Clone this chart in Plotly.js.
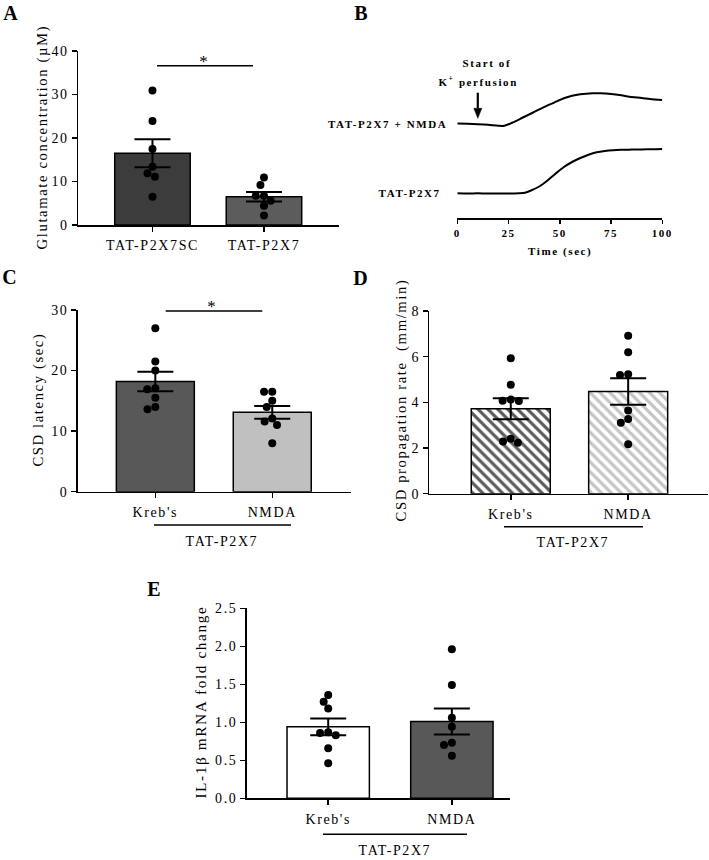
<!DOCTYPE html>
<html>
<head>
<meta charset="utf-8">
<script src="https://cdn.plot.ly/plotly-3.0.1.min.js"></script>
<style>
  html, body { margin: 0; padding: 0; background: white; }
  .main-svg text { letter-spacing: 1.6px; }
</style>
</head>
<body>
<div id="chart" style="width:709px;height:860px;"></div>
<script>
// ---------------- DATA ----------------
// Panel A: glutamate concentration (µM)
const A_categories = ['TAT-P2X7SC', 'TAT-P2X7'];
const A_means = [16.5, 6.5];
const A_sem = [3.2, 1.1];
const A_pts_SC = [30.9, 23.9, 17.5, 13.4, 11.9, 11.1, 6.5];
const A_pts_P2X7 = [10.9, 9.2, 6.7, 6.7, 5.6, 4.4, 2.2];

// Panel B: DC potential traces (arbitrary units, offset for display)
const B_time = [0, 5, 10, 15, 20, 23, 27, 32, 37, 42, 47, 52, 56, 60, 66, 70, 75, 80, 84, 90, 94, 100];
const B_nmda = [9.48, 9.45, 9.41, 9.35, 9.25, 9.25, 9.58, 10.08, 10.58, 11.10, 11.55, 12.00, 12.25, 12.40, 12.50, 12.50, 12.43, 12.30, 12.16, 12.03, 11.93, 11.83];
const B_time2 = [0, 5, 10, 15, 20, 25, 30, 33, 36, 40, 44, 48, 52, 56, 60, 64, 68, 72, 76, 80, 85, 90, 95, 100];
const B_tat = [2.50, 2.48, 2.50, 2.47, 2.49, 2.48, 2.50, 2.55, 2.78, 3.18, 3.78, 4.48, 5.13, 5.63, 6.03, 6.36, 6.60, 6.73, 6.81, 6.85, 6.87, 6.89, 6.90, 6.93];
const B_ticks = [0, 25, 50, 75, 100];
const B_arrowTime = 10;
const B_trace_labels = ['TAT-P2X7 + NMDA', 'TAT-P2X7'];

// Panel C: CSD latency (sec)
const C_categories = ["Kreb's", 'NMDA'];
const C_means = [18.2, 13.1];
const C_sem = [1.6, 1.05];
const C_pts_krebs = [27.0, 21.5, 20.0, 17.1, 16.9, 15.5, 14.0, 13.6];
const C_pts_nmda = [16.5, 16.5, 15.0, 14.0, 12.1, 11.6, 11.0, 8.0];

// Panel D: CSD propagation rate (mm/min)
const D_categories = ["Kreb's", 'NMDA'];
const D_means = [3.72, 4.47];
const D_sem = [0.46, 0.58];
const D_pts_krebs = [5.93, 4.77, 4.07, 4.06, 4.12, 2.41, 2.23, 2.29];
const D_pts_nmda = [6.92, 6.19, 5.23, 5.20, 3.64, 3.27, 3.11, 2.16];

// Panel E: IL-1β mRNA fold change
const E_categories = ["Kreb's", 'NMDA'];
const E_means = [0.94, 1.01];
const E_sem = [0.11, 0.17];
const E_pts_krebs = [1.36, 1.27, 1.18, 0.87, 0.83, 0.86, 0.66, 0.46];
const E_pts_nmda = [1.96, 1.49, 1.06, 0.94, 0.70, 0.73, 0.56];

const groupLabel = 'TAT-P2X7';

// ---------------- LAYOUT HELPERS ----------------
const W = 709, H = 860;
const px = v => v / W;
const py = v => 1 - v / H;
const FONT = 'Liberation Serif, Times New Roman, serif';

const panels = {
  A: {dom: [78, 339], ydom: [225, 51], xr: [-0.668, 1.673], yr: [0, 40], bw: 0.677},
  C: {dom: [77.7, 350.7], ydom: [491.7, 310], xr: [-0.664, 1.671], yr: [0, 30], bw: 0.667},
  D: {dom: [429.3, 708], ydom: [493.7, 311], xr: [-0.694, 1.68], yr: [0, 8], bw: 0.673},
  E: {dom: [246.7, 510], ydom: [798.3, 608.3], xr: [-0.659, 1.47], yr: [0, 2.5], bw: 0.666}
};
const B_dom = [457.3, 662.3], B_ydom = [218.3, 58.3], B_yr = [0, 16];

// beeswarm offsets (category units) so dots don't overlap, like the original scatter
function swarm(values, p, diam) {
  const pxPerUnit = (p.ydom[0] - p.ydom[1]) / (p.yr[1] - p.yr[0]);
  const pxPerCat = (p.dom[1] - p.dom[0]) / (p.xr[1] - p.xr[0]);
  const order = values.map((v, i) => i).sort((a, b) => values[b] - values[a]);
  const placed = [];
  const out = new Array(values.length).fill(0);
  order.forEach(i => {
    const y = values[i] * pxPerUnit;
    let cands = [0];
    placed.forEach(q => {
      const dy = y - q.y;
      if (Math.abs(dy) < diam) {
        const s = Math.sqrt(diam * diam - dy * dy);
        cands.push(q.x + s, q.x - s);
      }
    });
    cands.sort((a, b) => Math.abs(a) - Math.abs(b) || a - b);
    let chosen = 0;
    for (const c of cands) {
      if (placed.every(q => Math.hypot(q.x - c, q.y - y) >= diam - 1e-6)) { chosen = c; break; }
    }
    placed.push({x: chosen, y: y});
    out[i] = chosen / pxPerCat;
  });
  return out;
}

function catAxis(p, ticktext, anchor) {
  return {
    domain: [px(p.dom[0]), px(p.dom[1])], range: p.xr, anchor: anchor,
    tickmode: 'array', tickvals: [0, 1], ticktext: ticktext,
    showline: true, linewidth: 1.5, linecolor: 'black',
    ticks: 'outside', ticklen: 5, tickwidth: 1.5, tickcolor: 'black',
    showgrid: false, zeroline: false, fixedrange: true,
    tickfont: {family: FONT, size: 14, color: 'black'}, ticklabelstandoff: 2
  };
}
function valAxis(p, dtick, anchor, fmt) {
  return {
    domain: [py(p.ydom[0]), py(p.ydom[1])], range: p.yr, anchor: anchor,
    tickmode: 'linear', tick0: 0, dtick: dtick, tickformat: fmt || '',
    showline: true, linewidth: 1.5, linecolor: 'black',
    ticks: 'outside', ticklen: 5, tickwidth: 1.5, tickcolor: 'black',
    showgrid: false, zeroline: false, fixedrange: true,
    tickfont: {family: FONT, size: 14, color: 'black'}
  };
}

function barTrace(means, sem, colors, xa, ya, bw) {
  return {
    type: 'bar', x: [0, 1], y: means, width: bw, xaxis: xa, yaxis: ya,
    marker: {color: colors, line: {color: 'black', width: 1.5}},
    error_y: {type: 'data', array: sem, visible: true, color: 'black', thickness: 2, width: 18},
    hoverinfo: 'skip'
  };
}
function dotTrace(values, center, p, xa, ya) {
  const off = swarm(values, p, 8.2);
  return {
    type: 'scatter', mode: 'markers', xaxis: xa, yaxis: ya,
    x: values.map((v, i) => center + off[i]), y: values,
    marker: {color: 'black', size: 8}, hoverinfo: 'skip'
  };
}

const barD = barTrace(D_means, D_sem, ['#5a5a5a', '#c4c4c4'], 'x4', 'y4', panels.D.bw);
barD.marker.pattern = {shape: '\\', fgcolor: ['#5a5a5a', '#c4c4c4'], bgcolor: 'white', size: 7, solidity: 0.45, fillmode: 'replace'};

const data = [
  // A
  barTrace(A_means, A_sem, ['#3c3c3c', '#5c5c5c'], 'x', 'y', panels.A.bw),
  dotTrace(A_pts_SC, 0, panels.A, 'x', 'y'),
  dotTrace(A_pts_P2X7, 1, panels.A, 'x', 'y'),
  // B
  {type: 'scatter', mode: 'lines', x: B_time, y: B_nmda, xaxis: 'x2', yaxis: 'y2',
   line: {color: 'black', width: 2, shape: 'spline', smoothing: 0.8}, hoverinfo: 'skip'},
  {type: 'scatter', mode: 'lines', x: B_time2, y: B_tat, xaxis: 'x2', yaxis: 'y2',
   line: {color: 'black', width: 2, shape: 'spline', smoothing: 0.8}, hoverinfo: 'skip'},
  // C
  barTrace(C_means, C_sem, ['#585858', '#c0c0c0'], 'x3', 'y3', panels.C.bw),
  dotTrace(C_pts_krebs, 0, panels.C, 'x3', 'y3'),
  dotTrace(C_pts_nmda, 1, panels.C, 'x3', 'y3'),
  // D (hatched bars)
  barD,
  dotTrace(D_pts_krebs, 0, panels.D, 'x4', 'y4'),
  dotTrace(D_pts_nmda, 1, panels.D, 'x4', 'y4'),
  // E
  barTrace(E_means, E_sem, ['#ffffff', '#585858'], 'x5', 'y5', panels.E.bw),
  dotTrace(E_pts_krebs, 0, panels.E, 'x5', 'y5'),
  dotTrace(E_pts_nmda, 1, panels.E, 'x5', 'y5')
];

function ann(x, y, text, opts) {
  return Object.assign({xref: 'paper', yref: 'paper', x: px(x), y: py(y), text: text, showarrow: false,
    xanchor: 'center', yanchor: 'middle', font: {family: FONT, size: 14, color: 'black'}}, opts || {});
}
function line(x0, x1, y, w) {
  return {type: 'line', xref: 'paper', yref: 'paper', x0: px(x0), x1: px(x1), y0: py(y), y1: py(y),
    line: {color: 'black', width: w || 1.5}};
}
const letterFont = {family: FONT, size: 20, color: 'black'};
const smallBold = {family: FONT, size: 11, color: 'black'};
const titleFont = {family: FONT, size: 14.7, color: 'black'};

const annotations = [
  // panel letters
  ann(11, 13, '<b>A</b>', {font: letterFont}),
  ann(361, 13, '<b>B</b>', {font: letterFont}),
  ann(10, 277, '<b>C</b>', {font: letterFont}),
  ann(361, 278, '<b>D</b>', {font: letterFont}),
  ann(154, 589, '<b>E</b>', {font: letterFont}),
  // y titles
  ann(42, 137, 'Glutamate concentration (µM)', {textangle: -90, font: titleFont}),
  ann(39, 400, 'CSD latency (sec)', {textangle: -90, font: titleFont}),
  ann(401.5, 400, 'CSD propagation rate  (mm/min)', {textangle: -90, font: titleFont}),
  ann(200, 702, 'IL-1β mRNA fold change', {textangle: -90, font: {family: FONT, size: 15.3, color: 'black'}}),
  // significance stars
  ann(204, 61, '*', {font: {family: FONT, size: 17, color: 'black'}}),
  ann(213, 306, '*', {font: {family: FONT, size: 17, color: 'black'}}),
  // group labels
  ann(222, 541, groupLabel),
  ann(573, 542, groupLabel),
  ann(395, 860, groupLabel, {yanchor: 'bottom'}),
  // panel B labels
  ann(437, 124, '<b>' + B_trace_labels[0] + '</b>', {xanchor: 'right', font: smallBold}),
  ann(437, 193, '<b>' + B_trace_labels[1] + '</b>', {xanchor: 'right', font: smallBold}),
  ann(487, 63, '<b>Start of</b>', {font: smallBold}),
  ann(478, 81, '<b>K<sup>+</sup> perfusion</b>', {font: smallBold}),
  ann(560, 251, '<b>Time (sec)</b>', {font: smallBold})
];

// arrow marking start of K+ perfusion (drawn in panel B data coordinates)
const bPxPerX = (B_dom[1] - B_dom[0]) / 100;
const bPxPerY = (B_ydom[0] - B_ydom[1]) / (B_yr[1] - B_yr[0]);
const tipY = (B_ydom[0] - 118.3) / bPxPerY;
const headTopY = tipY + 10 / bPxPerY;
const tailY = (B_ydom[0] - 92.7) / bPxPerY;
const halfW = 4 / bPxPerX;

const shapes = [
  line(157, 253, 65.7),
  line(165.7, 262.3, 311),
  line(154, 291, 525),
  line(504, 643, 526.7),
  line(323, 467, 834.3),
  {type: 'line', xref: 'x2', yref: 'y2', x0: B_arrowTime, x1: B_arrowTime, y0: tailY, y1: headTopY,
   line: {color: 'black', width: 2.2}},
  {type: 'path', xref: 'x2', yref: 'y2',
   path: 'M ' + (B_arrowTime - halfW) + ' ' + headTopY + ' L ' + (B_arrowTime + halfW) + ' ' + headTopY +
         ' L ' + B_arrowTime + ' ' + tipY + ' Z',
   fillcolor: 'black', line: {color: 'black', width: 0.5}}
];

const layout = {
  width: W, height: H, autosize: false,
  margin: {l: 0, r: 0, t: 0, b: 0, pad: 0},
  paper_bgcolor: 'white', plot_bgcolor: 'rgba(0,0,0,0)',
  showlegend: false, bargap: 0,
  font: {family: FONT, color: 'black', size: 14},
  xaxis: catAxis(panels.A, A_categories, 'y'),
  yaxis: valAxis(panels.A, 10, 'x'),
  xaxis2: {
    domain: [px(B_dom[0]), px(B_dom[1])], range: [0, 100], anchor: 'y2',
    tickmode: 'array', tickvals: B_ticks,
    showline: true, linewidth: 1.5, linecolor: 'black',
    ticks: 'outside', ticklen: 4, tickwidth: 1.5, tickcolor: 'black',
    showgrid: false, zeroline: false, fixedrange: true,
    tickfont: {family: FONT, size: 11, color: 'black', weight: 'bold'}
  },
  yaxis2: {domain: [py(B_ydom[0]), py(B_ydom[1])], range: B_yr, anchor: 'x2', visible: false, fixedrange: true},
  xaxis3: catAxis(panels.C, C_categories, 'y3'),
  yaxis3: valAxis(panels.C, 10, 'x3'),
  xaxis4: catAxis(panels.D, D_categories, 'y4'),
  yaxis4: valAxis(panels.D, 2, 'x4'),
  xaxis5: catAxis(panels.E, E_categories, 'y5'),
  yaxis5: valAxis(panels.E, 0.5, 'x5', '.1f'),
  annotations: annotations,
  shapes: shapes
};

Plotly.newPlot('chart', data, layout, {staticPlot: true, displayModeBar: false});
</script>
</body>
</html>
